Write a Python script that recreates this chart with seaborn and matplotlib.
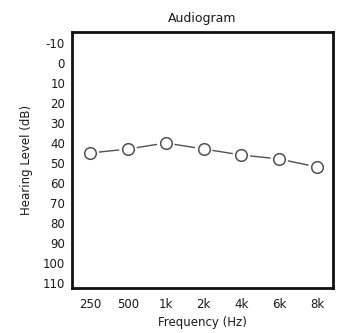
import matplotlib
matplotlib.use("Agg")
import matplotlib.pyplot as plt
import seaborn as sns
import pandas as pd

frequencies = ["250", "500", "1k", "2k", "4k", "6k", "8k"]
hearing_db = [45, 43, 40, 43, 46, 48, 52]
y_ticks = [-10, 0, 10, 20, 30, 40, 50, 60, 70, 80, 90, 100, 110]

sns.set_theme(style="white")
plt.rcParams['font.family'] = ['DejaVu Sans']

df = pd.DataFrame({"pos": range(len(frequencies)), "freq": frequencies, "db": hearing_db})

fig = plt.figure(figsize=(3.39, 3.33), dpi=100)
W, H = 339, 333
ax = fig.add_axes([72 / W, (H - 288) / H, (333 - 72) / W, (288 - 32) / H])

sns.lineplot(data=df, x="pos", y="db", ax=ax, color="#505050", linewidth=1.0, zorder=2)
ax.scatter(df["pos"], df["db"], s=160, color="white", edgecolors="none", zorder=3)
ax.scatter(df["pos"], df["db"], s=70, facecolors="white", edgecolors="#505050", linewidths=1.1, zorder=4)

ax.set_xlim(-0.48, 6.42)
ax.set_ylim(112.5, -15.5)
ax.set_xticks(range(len(frequencies)))
ax.set_xticklabels(frequencies)
ax.set_yticks(y_ticks)
ax.set_yticklabels([str(v) for v in y_ticks])
ax.tick_params(axis="both", length=0, labelsize=8.5, colors="#1a1a1a")
ax.tick_params(axis="y", pad=5)
ax.tick_params(axis="x", pad=7)

for side in ["left", "right", "top", "bottom"]:
    ax.spines[side].set_visible(True)
    ax.spines[side].set_color("#111111")
    ax.spines[side].set_linewidth(2.0)

ax.set_xlabel("Frequency (Hz)", fontsize=8.5, color="#1a1a1a", labelpad=4)
ax.set_ylabel("Hearing Level (dB)", fontsize=8.5, color="#1a1a1a", labelpad=7)
ax.set_title("Audiogram", fontsize=9, color="#1a1a1a", pad=7)

fig.savefig("out.png", dpi=100)
